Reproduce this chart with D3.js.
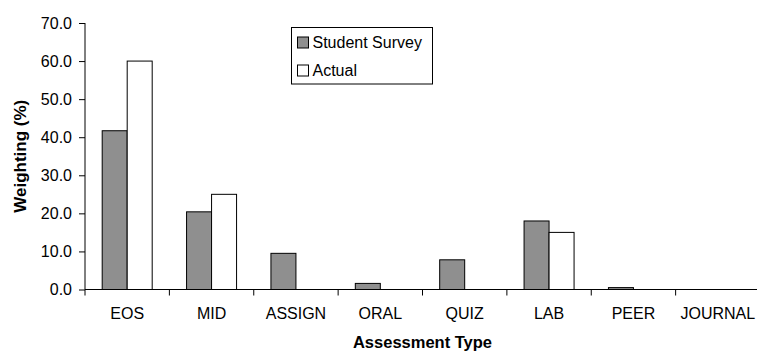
<!DOCTYPE html>
<html>
<head>
<meta charset="utf-8">
<script src="https://cdn.jsdelivr.net/npm/d3@7"></script>
<style>
  body { margin: 0; background: #fff; }
  svg { display: block; font-family: "Liberation Sans", Arial, sans-serif; }
</style>
</head>
<body>
<div id="chart"></div>
<script>
const categories = ["EOS", "MID", "ASSIGN", "ORAL", "QUIZ", "LAB", "PEER", "JOURNAL"];
const studentSurvey = [41.7, 20.4, 9.5, 1.6, 7.8, 18.0, 0.5, 0.0];
const actual = [60.0, 25.0, 0.0, 0.0, 0.0, 15.0, 0.0, 0.0];
const yTicks = [0, 10, 20, 30, 40, 50, 60, 70];
const seriesNames = ["Student Survey", "Actual"];
const seriesColors = ["#8f8f8f", "#ffffff"];

const width = 757, height = 351;
const plot = { left: 85, right: 760, top: 23, bottom: 289.5 };

const svg = d3.select("#chart").append("svg")
  .attr("width", width)
  .attr("height", height);

const x = d3.scaleBand()
  .domain(categories)
  .range([plot.left, plot.right]);

const y = d3.scaleLinear()
  .domain([0, 70])
  .range([plot.bottom, plot.top]);

const barW = 25;
const rows = categories.map((c, i) => ({ cat: c, vals: [studentSurvey[i], actual[i]] }));

// bars
const groups = svg.selectAll(".grp")
  .data(rows)
  .enter().append("g")
  .attr("transform", d => `translate(${x(d.cat) + x.bandwidth() / 2 - barW},0)`);

groups.selectAll("rect")
  .data(d => d.vals.map((v, j) => ({ v, j })))
  .enter().append("rect")
  .filter(d => d.v > 0)
  .attr("x", d => d.j * barW)
  .attr("y", d => y(d.v))
  .attr("width", barW)
  .attr("height", d => y(0) - y(d.v))
  .attr("fill", d => seriesColors[d.j])
  .attr("stroke", "#000")
  .attr("stroke-width", 1);

// y axis
const yAxis = svg.append("g")
  .attr("transform", `translate(${plot.left},0)`)
  .call(d3.axisLeft(y).tickValues(yTicks).tickFormat(d3.format(".1f")).tickSize(6).tickPadding(7));
yAxis.selectAll("text").style("font-size", "16px").attr("fill", "#000");
yAxis.selectAll("line, path").attr("stroke", "#000");
yAxis.select(".domain").attr("d", `M0,${plot.top}V${plot.bottom}`);

// x axis
const xAxis = svg.append("g")
  .attr("transform", `translate(0,${plot.bottom})`)
  .call(d3.axisBottom(x).tickSize(0).tickPadding(18));
xAxis.selectAll("text").style("font-size", "16px").attr("fill", "#000");
xAxis.select(".domain").attr("stroke", "#000").attr("d", `M${plot.left},0H${plot.right}`);
xAxis.selectAll(".sep")
  .data(categories)
  .enter().append("line")
  .attr("x1", d => x(d)).attr("x2", d => x(d))
  .attr("y1", 0).attr("y2", 6)
  .attr("stroke", "#000");

// axis titles
svg.append("text")
  .attr("x", (plot.left + plot.right) / 2)
  .attr("y", 348)
  .attr("text-anchor", "middle")
  .style("font-size", "16.5px")
  .style("font-weight", "bold")
  .text("Assessment Type");

svg.append("text")
  .attr("transform", `translate(26,${(plot.top + plot.bottom) / 2}) rotate(-90)`)
  .attr("text-anchor", "middle")
  .style("font-size", "17px")
  .style("font-weight", "bold")
  .text("Weighting (%)");

// legend
const legend = svg.append("g").attr("transform", "translate(291.5,27.5)");
legend.append("rect")
  .attr("width", 141).attr("height", 56.5)
  .attr("fill", "#fff").attr("stroke", "#000");
seriesNames.forEach((name, i) => {
  const g = legend.append("g").attr("transform", `translate(6,${15 + i * 28})`);
  g.append("rect")
    .attr("x", 0).attr("y", -5.5)
    .attr("width", 11).attr("height", 11)
    .attr("fill", seriesColors[i]).attr("stroke", "#000");
  g.append("text")
    .attr("x", 15).attr("y", 0)
    .attr("dy", "0.35em")
    .style("font-size", "16px")
    .text(name);
});
</script>
</body>
</html>
